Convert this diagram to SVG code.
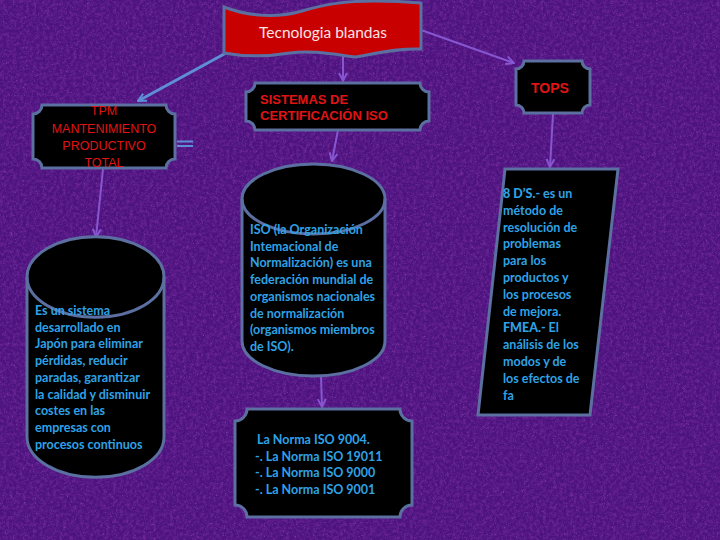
<svg xmlns="http://www.w3.org/2000/svg" width="720" height="540" viewBox="0 0 720 540">
<defs>
<filter id="tex" x="0" y="0" width="100%" height="100%">
<feTurbulence type="fractalNoise" baseFrequency="0.3" numOctaves="3" seed="4" result="n"/>
<feColorMatrix in="n" type="matrix" values="0 0 0 0 0.16  0 0 0 0 0.02  0 0 0 0 0.30  0 0 0 -2.2 1.35"/>
</filter>
<filter id="tex2" x="0" y="0" width="100%" height="100%">
<feTurbulence type="fractalNoise" baseFrequency="0.9" numOctaves="2" seed="9" result="n"/>
<feColorMatrix in="n" type="matrix" values="0 0 0 0 0.50  0 0 0 0 0.20  0 0 0 0 0.75  0 0 0 2.4 -1.45"/>
</filter>
<marker id="ab" viewBox="0 0 10 10" refX="9" refY="5" markerWidth="10" markerHeight="10" markerUnits="userSpaceOnUse" orient="auto">
<path d="M1,1 L9,5 L1,9" fill="none" stroke="#5e8fd4" stroke-width="2"/>
</marker>
<marker id="ap" viewBox="0 0 10 10" refX="9" refY="5" markerWidth="10" markerHeight="10" markerUnits="userSpaceOnUse" orient="auto">
<path d="M1,1 L9,5 L1,9" fill="none" stroke="#8656d0" stroke-width="2"/>
</marker>
</defs>
<style>
.plaque{fill:#000;stroke:#5b6fa0;stroke-width:3}
.cyl{fill:#000;stroke:#5b6fa0;stroke-width:3}
.red{fill:#e01414;font-family:"Liberation Sans",Arial,sans-serif}
.blue{fill:#2fa2e6;font-family:Lato,"Open Sans",sans-serif;font-size:12.5px;font-weight:bold}
.cp{stroke:#8656d0;stroke-width:2;fill:none;marker-end:url(#ap)}
.cb{stroke:#5e8fd4;stroke-width:3;fill:none;marker-end:url(#ab)}
</style>
<rect width="720" height="540" fill="#4c137f"/>
<rect width="720" height="540" filter="url(#tex)" opacity="0.85"/>
<rect width="720" height="540" filter="url(#tex2)" opacity="0.5"/>

<g id="connectors">
<line class="cb" x1="226" y1="53" x2="138" y2="101"/>
<line class="cp" x1="421" y1="30" x2="514" y2="63"/>
<line class="cp" x1="343" y1="55" x2="343" y2="81"/>
<line class="cp" x1="338" y1="130" x2="332" y2="161"/>
<line class="cp" x1="103" y1="169" x2="96" y2="237"/>
<line class="cp" x1="321" y1="376" x2="322" y2="407"/>
<line class="cp" x1="553" y1="114" x2="550" y2="167"/>
<line x1="177" y1="141.5" x2="193" y2="141.5" stroke="#5e8fd4" stroke-width="2"/>
<line x1="177" y1="146" x2="193" y2="146" stroke="#5e8fd4" stroke-width="2"/>
</g>

<g id="banner">
<path d="M224,7 C250,17 278,18 302,11 C326,4 345,1 375,1 C395,1 410,2 421,3 L421,49 C400,48 378,53 355,57 C332,54 310,50 290,53 C265,57 245,57 224,53 Z" fill="#c80000" stroke="#5b6fa0" stroke-width="3"/>
<text x="323" y="38" text-anchor="middle" font-family="Lato,'Open Sans',sans-serif" font-size="15.5" fill="#fbe4e4">Tecnologia blandas</text>
</g>

<g id="tpm">
<path class="plaque" d="M42,105 L166,105 A9,9 0 0 0 175,114 L175,159 A9,9 0 0 0 166,168 L42,168 A9,9 0 0 0 33,159 L33,114 A9,9 0 0 0 42,105 Z"/>
<g class="red" font-size="12.5" text-anchor="middle">
<text x="104" y="115">TPM</text>
<text x="104" y="133">MANTENIMIENTO</text>
<text x="104" y="150">PRODUCTIVO</text>
<text x="104" y="167">TOTAL</text>
</g>
</g>

<g id="iso-header">
<path class="plaque" d="M255,83 L420,83 A9,9 0 0 0 429,92 L429,121 A9,9 0 0 0 420,130 L255,130 A9,9 0 0 0 246,121 L246,92 A9,9 0 0 0 255,83 Z"/>
<g class="red" font-size="13" font-weight="bold">
<text x="260" y="104">SISTEMAS DE</text>
<text x="260" y="120">CERTIFICACIÓN ISO</text>
</g>
</g>

<g id="tops">
<path class="plaque" d="M524,61 L582,61 A8,8 0 0 0 590,69 L590,105 A8,8 0 0 0 582,113 L524,113 A8,8 0 0 0 516,105 L516,69 A8,8 0 0 0 524,61 Z"/>
<text class="red" x="550" y="93" text-anchor="middle" font-size="14" font-weight="bold">TOPS</text>
</g>

<g id="tpm-desc">
<path class="cyl" d="M27,277 A68,40 0 0 1 164,277 L164,437 A68,40 0 0 1 27,437 Z"/>
<path d="M27,277 A68,40 0 0 0 164,277" fill="none" stroke="#5b6fa0" stroke-width="3"/>
<g class="blue">
<text x="35" y="315">Es un sistema</text>
<text x="35" y="331.7">desarrollado en</text>
<text x="35" y="348.4">Japón para eliminar</text>
<text x="35" y="365.1">pérdidas, reducir</text>
<text x="35" y="381.8">paradas, garantizar</text>
<text x="35" y="398.5">la calidad y disminuir</text>
<text x="35" y="415.2">costes en las</text>
<text x="35" y="431.9">empresas con</text>
<text x="35" y="448.6">procesos continuos</text>
</g>
</g>

<g id="iso-desc">
<path class="cyl" d="M242,199 A71.5,35 0 0 1 385,199 L385,341 A71.5,35 0 0 1 242,341 Z"/>
<path d="M242,199 A71.5,35 0 0 0 385,199" fill="none" stroke="#5b6fa0" stroke-width="3"/>
<g class="blue">
<text x="250" y="234">ISO (la Organización</text>
<text x="250" y="250.7">Intemacional de</text>
<text x="250" y="267.4">Normalización) es una</text>
<text x="250" y="284.1">federación mundial de</text>
<text x="250" y="300.8">organismos nacionales</text>
<text x="250" y="317.5">de normalización</text>
<text x="250" y="334.2">(organismos miembros</text>
<text x="250" y="350.9">de ISO).</text>
</g>
</g>

<g id="normas">
<path class="plaque" d="M247,409 L400,409 A12,12 0 0 0 412,421 L412,505 A12,12 0 0 0 400,517 L247,517 A12,12 0 0 0 235,505 L235,421 A12,12 0 0 0 247,409 Z"/>
<g class="blue">
<text x="257" y="444">La Norma ISO 9004.</text>
<text x="255" y="461">-. La Norma ISO 19011</text>
<text x="255" y="477">-. La Norma ISO 9000</text>
<text x="255" y="494">-. La Norma ISO 9001</text>
</g>
</g>

<g id="tops-desc">
<path d="M505,169 L618,169 L590,415 L478,415 Z" fill="#000" stroke="#5b6fa0" stroke-width="3"/>
<g class="blue">
<text x="503" y="198"><tspan font-weight="900">8 D’S.</tspan>- es un</text>
<text x="503" y="214.8">método de</text>
<text x="503" y="231.6">resolución de</text>
<text x="503" y="248.4">problemas</text>
<text x="503" y="265.2">para los</text>
<text x="503" y="282">productos y</text>
<text x="503" y="298.8">los procesos</text>
<text x="503" y="315.6">de mejora.</text>
<text x="503" y="332.4"><tspan font-weight="900">FMEA.</tspan>- El</text>
<text x="503" y="349.2">análisis de los</text>
<text x="503" y="366">modos y de</text>
<text x="503" y="382.8">los efectos de</text>
<text x="503" y="399.6">fa</text>
</g>
</g>
</svg>
